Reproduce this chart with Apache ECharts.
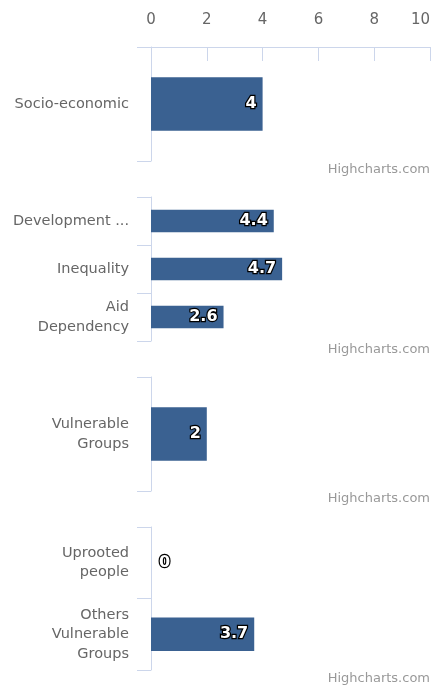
<!DOCTYPE html>
<html>
<head>
<meta charset="utf-8">
<script src="https://cdn.jsdelivr.net/npm/echarts@6/dist/echarts.min.js"></script>
<style>
html,body{margin:0;padding:0;background:#fff;}
#main{width:431px;height:688px;}
</style>
</head>
<body>
<div id="main"></div>
<script>
// ---- data ----
const xTicks = [0, 2, 4, 6, 8, 10];
const categories1 = ['Socio-economic'];
const values1 = [4];
const categories2 = ['Development ...', 'Inequality', 'Aid\nDependency'];
const values2 = [4.4, 4.7, 2.6];
const categories3 = ['Vulnerable\nGroups'];
const values3 = [2];
const categories4 = ['Uprooted\npeople', 'Others\nVulnerable\nGroups'];
const values4 = [0, 3.7];
const creditText = 'Highcharts.com';

const panels = [
  {cats: categories1, vals: values1},
  {cats: categories2, vals: values2},
  {cats: categories3, vals: values3},
  {cats: categories4, vals: values4}
];
const layout = [
  {top: 47, height: 114, credit: 171},
  {top: 197, height: 144, credit: 351},
  {top: 377, height: 114, credit: 500},
  {top: 527, height: 143, credit: 680}
];

const FONT = '"DejaVu Sans", Verdana, sans-serif';
const AXIS_COLOR = '#ccd6eb';
const BAR_COLOR = '#3a6191';

const grid = [], xAxis = [], yAxis = [], series = [], graphic = [];
panels.forEach((p, i) => {
  const L = layout[i];
  grid.push({left: 151, width: 279, top: L.top, height: L.height, containLabel: false, outerBoundsMode: 'none'});
  const showX = i === 0;
  xAxis.push({
    gridIndex: i, type: 'value', position: 'top',
    min: xTicks[0], max: xTicks[xTicks.length - 1], interval: xTicks[1] - xTicks[0],
    axisLine: {show: showX, lineStyle: {color: AXIS_COLOR, width: 1}},
    axisTick: {show: showX, inside: true, length: 14, lineStyle: {color: AXIS_COLOR}},
    axisLabel: {show: showX, color: '#666666', fontSize: 15, fontFamily: FONT, margin: 19, alignMaxLabel: 'right'},
    splitLine: {show: false}
  });
  yAxis.push({
    gridIndex: i, type: 'category', inverse: true, data: p.cats,
    axisLine: {show: true, lineStyle: {color: AXIS_COLOR, width: 1}},
    axisTick: {show: true, length: 14, lineStyle: {color: AXIS_COLOR}},
    axisLabel: {color: '#666666', fontSize: 14.5, fontFamily: FONT, margin: 22, lineHeight: 19.5, align: 'right'},
    splitLine: {show: false}
  });
  series.push({
    type: 'bar', xAxisIndex: i, yAxisIndex: i,
    barWidth: '47%',
    itemStyle: {color: BAR_COLOR},
    label: {
      show: true, position: 'insideRight', distance: 6,
      color: '#ffffff', fontSize: 16, fontWeight: 'bold', fontFamily: FONT,
      textBorderColor: '#000000', textBorderWidth: 2.5
    },
    data: p.vals.map(v => v === 0 ? {value: v, label: {position: 'right', distance: 8}} : v)
  });
  graphic.push({
    type: 'text', right: 1, top: L.credit - 8,
    style: {text: creditText, fill: '#999999', fontSize: 13, fontFamily: FONT, textAlign: 'right'}
  });
});

const chart = echarts.init(document.getElementById('main'), null, {renderer: 'canvas'});
chart.setOption({
  animation: false,
  backgroundColor: '#ffffff',
  grid, xAxis, yAxis, series, graphic
});
</script>
</body>
</html>
